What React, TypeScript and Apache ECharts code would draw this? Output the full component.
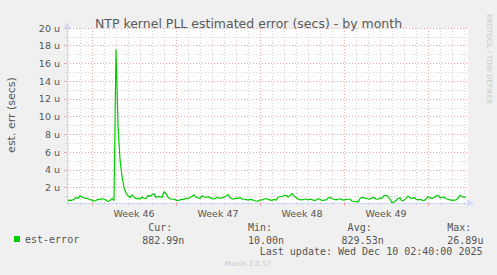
import React, { useEffect, useRef } from "react";
import * as echarts from "echarts";

const chartTitle = "NTP kernel PLL estimated error (secs) - by month";
const yAxisTitle = "est. err (secs)";
const seriesName = "est-error";
const watermark = "RRDTOOL / TOBI OETIKER";
const footer = "Munin 2.0.57";
const lastUpdate = "Last update: Wed Dec 10 02:40:00 2025";

// hours relative to Monday 00:00 of ISO week 46
const xMin = -50;
const xMax = 752;
const startHour = -48;
const stepHours = 4;
const weekNumbers = [46, 47, 48, 49, 50];
const yMin = 0.275;
const yMax = 20;
const yMajor = [2, 4, 6, 8, 10, 12, 14, 16, 18, 20];
const yMinor = [1, 3, 5, 7, 9, 11, 13, 15, 17, 19];

// est-error, microseconds, one point every 4 hours
const errorValues = [
  0.55, 0.6, 0.58, 0.7, 0.9, 0.8, 1.1, 0.95, 0.85, 0.8,
  0.75, 0.65, 0.6, 0.48, 0.55, 0.7, 0.65, 0.78, 0.7, 0.6,
  0.45, 0.55, 0.8, 0.55, 17.6, 9.0, 5.2, 3.3, 2.0, 1.4,
  1.1, 0.85, 1.2, 0.95, 0.75, 0.8, 0.72, 0.95, 0.8, 0.75,
  1.15, 1.0, 1.2, 1.3, 0.9, 1.0, 1.0, 0.9, 1.55, 1.35,
  0.92, 0.75, 0.7, 0.72, 0.6, 0.55, 0.62, 0.7, 0.68, 0.8,
  0.78, 0.9, 1.0, 1.2, 0.95, 0.85, 0.8, 1.1, 0.95, 0.9,
  1.0, 0.85, 0.8, 0.72, 0.85, 0.9, 0.8, 0.85, 0.95, 1.05,
  1.25, 0.9, 0.75, 0.72, 0.82, 0.8, 0.9, 0.72, 0.7, 0.68,
  0.6, 0.68, 0.65, 0.55, 0.5, 0.48, 0.6, 0.62, 0.72, 0.78,
  0.68, 0.62, 0.55, 0.7, 0.58, 0.9, 1.0, 1.0, 1.1, 1.15,
  0.95, 1.1, 1.35, 1.05, 0.9, 0.72, 0.65, 0.62, 0.7, 0.72,
  0.62, 0.7, 0.68, 0.55, 0.6, 0.75, 0.68, 0.55, 0.6, 0.62,
  0.8, 0.92, 0.75, 0.7, 0.62, 0.7, 0.75, 0.65, 0.6, 0.68,
  0.7, 0.7, 0.48, 0.47, 0.42, 0.4, 0.78, 0.9, 0.85, 0.8,
  0.75, 0.72, 0.85, 0.9, 0.72, 0.7, 0.85, 0.78, 1.1, 1.15,
  1.0, 0.7, 0.32, 0.38, 0.55, 0.8, 0.85, 0.5, 0.6, 0.8,
  1.05, 0.85, 0.8, 0.9, 0.7, 0.62, 0.7, 0.6, 0.55, 0.7,
  1.0, 0.85, 0.8, 0.9, 1.05, 1.15, 0.85, 0.9, 0.95, 0.75,
  0.7, 0.62, 0.58, 0.6, 0.62, 0.8, 1.15, 1.0, 0.9, 0.95,
];

const statLabels = ["Cur:", "Min:", "Avg:", "Max:"];
const statValues = ["882.99n", "10.00n", "829.53n", "26.89u"];

const LINE_GREEN = "#00cc00";
const AXIS_BLUE = "#cfd6f8";
const MAJOR_GRID = "#eba9a9";
const MINOR_GRID = "#d6d6d6";
const FONT = "DejaVu Sans, sans-serif";
const MONO = "DejaVu Sans Mono, monospace";

export default function App() {
  const ref = useRef<HTMLDivElement>(null);

  useEffect(() => {
    if (!ref.current) return;
    const chart = echarts.init(ref.current, undefined, { renderer: "svg" });

    const weekBounds = weekNumbers.map((w) => (w - weekNumbers[0]) * 168);
    const weekCenters = weekBounds.map((b) => b + 84).filter((c) => c < xMax);
    const dayLines: number[] = [];
    for (let h = Math.ceil(xMin / 24) * 24; h <= xMax; h += 24) {
      if (h % 168 !== 0) dayLines.push(h);
    }
    const seriesData = errorValues.map((v, i) => [startHour + i * stepHours, v]);

    const statGraphics: any[] = [];
    statLabels.forEach((lab, k) => {
      const right = 184.3 + k * 99.7;
      statGraphics.push({
        type: "text",
        x: right - 12,
        y: 227.5,
        style: { text: lab, font: `10px ${MONO}`, fill: "#555", align: "right", verticalAlign: "middle" },
      });
      statGraphics.push({
        type: "text",
        x: right,
        y: 240,
        style: { text: statValues[k], font: `10px ${MONO}`, fill: "#555", align: "right", verticalAlign: "middle" },
      });
    });

    chart.setOption({
      animation: false,
      backgroundColor: "#f0f0f0",
      title: {
        text: chartTitle,
        left: "center",
        top: 12,
        textStyle: { fontFamily: FONT, fontSize: 12.5, fontWeight: "normal", color: "#5a5a5a" },
      },
      legend: {
        data: [seriesName],
        left: 14,
        top: 234,
        icon: "rect",
        itemWidth: 6,
        itemHeight: 6,
        padding: 0,
        textStyle: { fontFamily: MONO, fontSize: 10, color: "#555" },
      },
      grid: {
        left: 67,
        top: 28,
        width: 401,
        height: 175,
        show: true,
        backgroundColor: "#ffffff",
        borderWidth: 0,
      },
      xAxis: [
        {
          type: "value",
          min: xMin,
          max: xMax,
          z: 3,
          axisLine: {
            show: true,
            onZero: false,
            lineStyle: { color: AXIS_BLUE, width: 1 },
            symbol: ["none", "arrow"],
            symbolSize: [6, 8],
            symbolOffset: [0, 6],
          },
          axisTick: { show: true, customValues: weekBounds, length: 3, lineStyle: { color: MAJOR_GRID } },
          axisLabel: {
            customValues: weekCenters,
            margin: 5,
            fontFamily: FONT,
            fontSize: 9.5,
            color: "#555",
            formatter: (v: number) => "Week " + (weekNumbers[0] + Math.round((v - 84) / 168)),
          },
          splitLine: { show: true, lineStyle: { color: MAJOR_GRID, type: [1, 2], width: 1 } },
        },
        {
          type: "value",
          min: xMin,
          max: xMax,
          position: "bottom",
          axisLine: { show: false, onZero: false },
          axisTick: { show: true, customValues: dayLines, length: 2, lineStyle: { color: MINOR_GRID } },
          axisLabel: { show: false },
          splitLine: { show: true, lineStyle: { color: MINOR_GRID, type: [1, 2], width: 1 } },
        },
      ],
      yAxis: [
        {
          type: "value",
          min: yMin,
          max: yMax,
          z: 3,
          axisLine: {
            show: true,
            onZero: false,
            lineStyle: { color: AXIS_BLUE, width: 1 },
            symbol: ["none", "arrow"],
            symbolSize: [6, 8],
            symbolOffset: [0, 6],
          },
          axisTick: { show: true, customValues: yMajor, length: 3, lineStyle: { color: MAJOR_GRID } },
          axisLabel: {
            customValues: yMajor,
            margin: 7,
            fontFamily: FONT,
            fontSize: 9.5,
            color: "#555",
            formatter: (v: number) => v + " u",
          },
          splitLine: { show: true, lineStyle: { color: MAJOR_GRID, type: [1, 2], width: 1 } },
        },
        {
          type: "value",
          min: yMin,
          max: yMax,
          position: "left",
          axisLine: { show: false, onZero: false },
          axisTick: { show: true, customValues: yMinor, length: 2, lineStyle: { color: MINOR_GRID } },
          axisLabel: { show: false },
          splitLine: { show: true, lineStyle: { color: MINOR_GRID, type: [1, 2], width: 1 } },
        },
      ],
      series: [
        {
          name: seriesName,
          type: "line",
          xAxisIndex: 0,
          yAxisIndex: 0,
          data: seriesData,
          showSymbol: false,
          symbol: "none",
          color: LINE_GREEN,
          lineStyle: { color: LINE_GREEN, width: 1.2 },
          z: 5,
        },
      ],
      graphic: [
        {
          type: "text",
          x: 11,
          y: 115,
          rotation: Math.PI / 2,
          style: { text: yAxisTitle, font: `11px ${FONT}`, fill: "#555", align: "center", verticalAlign: "middle" },
        },
        {
          type: "text",
          x: 488.5,
          y: 59,
          rotation: -Math.PI / 2,
          style: { text: watermark, font: `7px ${FONT}`, fill: "#c8c8c8", align: "center", verticalAlign: "middle" },
        },
        ...statGraphics,
        {
          type: "text",
          x: 482.5,
          y: 251.8,
          style: { text: lastUpdate, font: `10px ${MONO}`, fill: "#555", align: "right", verticalAlign: "middle" },
        },
        {
          type: "text",
          x: 248,
          y: 263.5,
          style: { text: footer, font: `7px ${FONT}`, fill: "#c8c8c8", align: "center", verticalAlign: "middle" },
        },
      ],
    });

    return () => chart.dispose();
  }, []);

  return (
    <div
      ref={ref}
      style={{ position: "fixed", left: 0, top: 0, width: 497, height: 275, background: "#f0f0f0" }}
    />
  );
}
